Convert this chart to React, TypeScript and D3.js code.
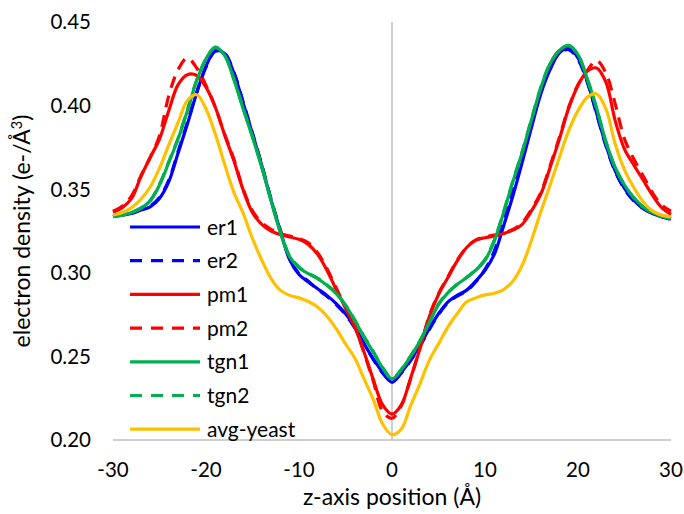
import React from "react";
import * as d3 from "d3";

const zPos = [-30,-29,-28,-27,-26,-25,-24,-23,-22,-21,-20,-19,-18,-17,-16,-15,-14,-13,-12,-11,-10,-9,-8,-7,-6,-5,-4,-3,-2,-1,0,1,2,3,4,5,6,7,8,9,10,11,12,13,14,15,16,17,18,19,20,21,22,23,24,25,26,27,28,29,30];

const er1 = [0.3335,0.3345,0.3355,0.3375,0.3395,0.3445,0.3545,0.3716,0.3890,0.4075,0.4235,0.4330,0.4310,0.4195,0.4015,0.3830,0.3640,0.3435,0.3250,0.3077,0.2990,0.2945,0.2905,0.2865,0.2815,0.2755,0.2675,0.2575,0.2485,0.2405,0.2345,0.2405,0.2480,0.2565,0.2665,0.2755,0.2825,0.2865,0.2895,0.2950,0.3015,0.3110,0.3280,0.3460,0.3660,0.3870,0.4070,0.4215,0.4315,0.4345,0.4285,0.4145,0.3955,0.3765,0.3610,0.3505,0.3435,0.3385,0.3355,0.3335,0.3320];
const er2 = [0.3338,0.3347,0.3357,0.3378,0.3400,0.3450,0.3555,0.3725,0.3900,0.4080,0.4230,0.4325,0.4312,0.4200,0.4020,0.3835,0.3645,0.3440,0.3255,0.3085,0.2995,0.2950,0.2900,0.2860,0.2810,0.2750,0.2670,0.2575,0.2480,0.2400,0.2350,0.2400,0.2475,0.2560,0.2660,0.2750,0.2820,0.2860,0.2890,0.2945,0.3020,0.3130,0.3310,0.3490,0.3700,0.3900,0.4090,0.4235,0.4315,0.4335,0.4275,0.4140,0.3950,0.3760,0.3605,0.3500,0.3430,0.3385,0.3355,0.3335,0.3320];
const pm1 = [0.3362,0.3390,0.3445,0.3575,0.3690,0.3800,0.3970,0.4125,0.4185,0.4180,0.4110,0.3990,0.3825,0.3670,0.3495,0.3360,0.3290,0.3250,0.3228,0.3214,0.3200,0.3170,0.3110,0.3015,0.2900,0.2790,0.2675,0.2525,0.2360,0.2210,0.2155,0.2210,0.2370,0.2545,0.2735,0.2870,0.2970,0.3070,0.3150,0.3195,0.3210,0.3220,0.3235,0.3255,0.3290,0.3370,0.3470,0.3630,0.3800,0.3985,0.4120,0.4205,0.4225,0.4140,0.3910,0.3740,0.3645,0.3555,0.3465,0.3390,0.3350];
const pm2 = [0.3368,0.3400,0.3460,0.3580,0.3690,0.3820,0.4060,0.4215,0.4285,0.4225,0.4120,0.3990,0.3830,0.3680,0.3500,0.3370,0.3300,0.3260,0.3235,0.3220,0.3205,0.3180,0.3120,0.3025,0.2910,0.2790,0.2680,0.2520,0.2350,0.2170,0.2130,0.2205,0.2365,0.2550,0.2740,0.2875,0.2975,0.3075,0.3150,0.3195,0.3215,0.3225,0.3240,0.3260,0.3300,0.3380,0.3480,0.3640,0.3810,0.3990,0.4125,0.4210,0.4270,0.4195,0.4010,0.3800,0.3680,0.3580,0.3480,0.3405,0.3368];
const tgn1 = [0.3335,0.3345,0.3360,0.3385,0.3430,0.3525,0.3660,0.3800,0.3970,0.4150,0.4280,0.4350,0.4300,0.4155,0.3980,0.3810,0.3630,0.3430,0.3240,0.3095,0.3030,0.2995,0.2965,0.2925,0.2875,0.2805,0.2715,0.2615,0.2525,0.2430,0.2365,0.2420,0.2500,0.2590,0.2700,0.2810,0.2880,0.2930,0.2970,0.3015,0.3075,0.3190,0.3360,0.3545,0.3720,0.3915,0.4105,0.4250,0.4330,0.4360,0.4305,0.4160,0.3985,0.3785,0.3630,0.3525,0.3450,0.3395,0.3360,0.3340,0.3325];
const tgn2 = [0.3337,0.3347,0.3362,0.3388,0.3433,0.3530,0.3665,0.3805,0.3975,0.4152,0.4278,0.4348,0.4302,0.4160,0.3985,0.3815,0.3635,0.3435,0.3245,0.3100,0.3035,0.2998,0.2968,0.2928,0.2878,0.2808,0.2718,0.2618,0.2528,0.2433,0.2368,0.2423,0.2503,0.2593,0.2703,0.2812,0.2882,0.2932,0.2972,0.3018,0.3080,0.3195,0.3365,0.3550,0.3725,0.3920,0.4108,0.4252,0.4330,0.4358,0.4302,0.4158,0.3982,0.3782,0.3628,0.3523,0.3448,0.3393,0.3358,0.3338,0.3324];
const avgYeast = [0.3346,0.3360,0.3390,0.3440,0.3513,0.3625,0.3765,0.3900,0.4030,0.4065,0.3980,0.3830,0.3650,0.3480,0.3355,0.3205,0.3075,0.2965,0.2895,0.2865,0.2850,0.2828,0.2795,0.2740,0.2665,0.2575,0.2490,0.2365,0.2240,0.2095,0.2032,0.2065,0.2205,0.2335,0.2475,0.2575,0.2675,0.2755,0.2825,0.2850,0.2868,0.2878,0.2900,0.2950,0.3045,0.3195,0.3365,0.3525,0.3690,0.3850,0.3970,0.4050,0.4070,0.3980,0.3770,0.3615,0.3510,0.3425,0.3370,0.3345,0.3334];

const seriesNames = ["er1", "er2", "pm1", "pm2", "tgn1", "tgn2", "avg-yeast"];
const seriesValues = [er1, er2, pm1, pm2, tgn1, tgn2, avgYeast];
const seriesColors = ["#0000FF", "#0000FF", "#FF0000", "#FF0000", "#00B050", "#00B050", "#FFC000"];
const seriesDashed = [false, true, false, true, false, true, false];

const xTicks = [-30, -20, -10, 0, 10, 20, 30];
const yTicks = [0.2, 0.25, 0.3, 0.35, 0.4, 0.45];

const FONT = "Lato, 'Open Sans', sans-serif";

export default function App() {
  const W = 684, H = 514;
  const x = d3.scaleLinear().domain([-30, 30]).range([113, 671]);
  const y = d3.scaleLinear().domain([0.2, 0.45]).range([440, 22]);
  const line = d3.line<number>()
    .x((_, i) => x(zPos[i]))
    .y((v) => y(v))
    .curve(d3.curveCatmullRom.alpha(0.5));

  const legendX1 = 130, legendX2 = 200, legendTextX = 207, legendY0 = 227, legendDy = 33.7;

  return (
    <svg width={W} height={H} style={{ position: "absolute", left: 0, top: 0, background: "#fff" }} fontFamily={FONT}>
      <rect x={0} y={0} width={W} height={H} fill="#fff" />
      {/* axes */}
      <line x1={x(0)} x2={x(0)} y1={y(0.45)} y2={y(0.2)} stroke="#BFBFBF" strokeWidth={1.5} />
      <line x1={x(-30)} x2={x(30)} y1={y(0.2)} y2={y(0.2)} stroke="#BFBFBF" strokeWidth={1.5} />
      {yTicks.map((t) => (
        <text key={t} x={91} y={y(t)} dy="0.36em" textAnchor="end" fontSize={20.5} fill="#000">
          {t.toFixed(2)}
        </text>
      ))}
      {xTicks.map((t) => (
        <text key={t} x={x(t)} y={470} dy="0.36em" textAnchor="middle" fontSize={20.5} fill="#000">
          {t}
        </text>
      ))}
      <text x={x(0)} y={497} dy="0.36em" textAnchor="middle" fontSize={23} fill="#000">
        z-axis position (Å)
      </text>
      <text transform={`translate(22,${231}) rotate(-90)`} textAnchor="middle" dy="0.36em" fontSize={23} fill="#000">
        electron density (e-/Å<tspan baselineShift="super" fontSize={14.5}>3</tspan>)
      </text>
      {/* series */}
      {seriesValues.map((vals, i) => (
        <path
          key={seriesNames[i]}
          d={line(vals) || ""}
          fill="none"
          stroke={seriesColors[i]}
          strokeWidth={3.2}
          strokeDasharray={seriesDashed[i] ? "12,8" : undefined}
          strokeLinejoin="round"
        />
      ))}
      {/* legend */}
      {seriesNames.map((name, i) => (
        <g key={name}>
          <line
            x1={legendX1}
            x2={legendX2}
            y1={legendY0 + i * legendDy}
            y2={legendY0 + i * legendDy}
            stroke={seriesColors[i]}
            strokeWidth={3.2}
            strokeDasharray={seriesDashed[i] ? "12,9" : undefined}
          />
          <text x={legendTextX} y={legendY0 + i * legendDy} dy="0.36em" fontSize={21} fill="#000">
            {name}
          </text>
        </g>
      ))}
    </svg>
  );
}
